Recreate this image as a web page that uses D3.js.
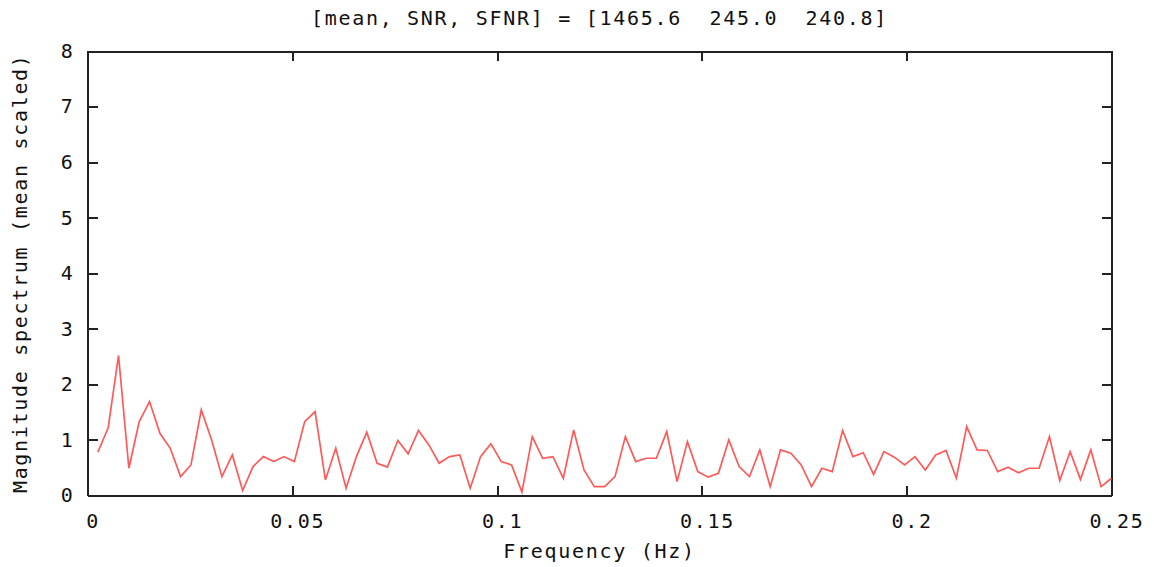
<!DOCTYPE html>
<meta charset="utf-8">
<style>
body { margin: 0; background: #fff; }
text { font-family: "DejaVu Sans Mono", "Liberation Mono", monospace; fill: #111; white-space: pre; }
.axis path, .axis line { stroke: #222; stroke-width: 2; shape-rendering: crispEdges; }
.axis text { font-size: 20px; letter-spacing: 1.7px; }
.lbl { font-size: 20px; letter-spacing: 1.7px; }
.spec { fill: none; stroke: #ff5a5a; stroke-width: 1.7; }
</style>
<svg id="thevis" width="1154" height="567"></svg>
<script src="https://cdn.jsdelivr.net/npm/d3@7"></script>
<script>
// magnitude spectrum, one value per frequency bin k/396, k = 1..99
var magnitude = [
  0.78, 1.22, 2.52, 0.49, 1.33, 1.69, 1.12, 0.85, 0.34, 0.55,
  1.54, 1.00, 0.34, 0.73, 0.09, 0.52, 0.70, 0.61, 0.70, 0.61,
  1.33, 1.51, 0.28, 0.85, 0.13, 0.70, 1.14, 0.58, 0.51, 0.99,
  0.75, 1.17, 0.91, 0.58, 0.70, 0.73, 0.13, 0.70, 0.93, 0.61,
  0.55, 0.06, 1.06, 0.67, 0.70, 0.31, 1.18, 0.46, 0.16, 0.16,
  0.34, 1.06, 0.61, 0.67, 0.67, 1.15, 0.25, 0.97, 0.43, 0.33,
  0.40, 1.00, 0.52, 0.34, 0.82, 0.16, 0.82, 0.76, 0.55, 0.16,
  0.49, 0.43, 1.17, 0.70, 0.77, 0.38, 0.79, 0.69, 0.55, 0.70,
  0.46, 0.73, 0.81, 0.31, 1.24, 0.82, 0.81, 0.43, 0.51, 0.41,
  0.49, 0.49, 1.06, 0.27, 0.79, 0.29, 0.82, 0.16, 0.31
];
var nBins = 396;
var xTicks = [0, 0.05, 0.1, 0.15, 0.2, 0.25];
var xTickLabels = ["0", "0.05", "0.1", "0.15", "0.2", "0.25"];
var yTicks = [0, 1, 2, 3, 4, 5, 6, 7, 8];
var title = "[mean, SNR, SFNR] = [1465.6  245.0  240.8]";
var xTitle = "Frequency (Hz)";
var yTitle = "Magnitude spectrum (mean scaled)";

var svg = d3.select("svg");
var margin = {top: 51, right: 42.5, bottom: 71.5, left: 87.5};
var width = +svg.attr("width") - margin.left - margin.right;
var height = +svg.attr("height") - margin.top - margin.bottom;

var x = d3.scaleLinear().domain([0, 0.25]).range([0, width]);
var y = d3.scaleLinear().domain([0, 8]).range([height, 0]);

var g = svg.append("g")
    .attr("transform", "translate(" + margin.left + "," + margin.top + ")");

var data = magnitude.map(function(v, i) { return {f: (i + 1) / nBins, v: v}; });

// ticks point inward on all four sides
g.append("g")
    .attr("class", "axis")
    .attr("transform", "translate(0," + height + ")")
    .call(d3.axisBottom(x).tickValues(xTicks).tickSizeInner(-10).tickSizeOuter(0).tickPadding(18)
      .tickFormat(function(d, i) { return xTickLabels[i]; }))
  .selectAll("text").attr("dx", "5");

g.append("g")
    .attr("class", "axis")
    .call(d3.axisTop(x).tickValues(xTicks).tickSizeInner(-10).tickSizeOuter(0).tickFormat(""));

g.append("g")
    .attr("class", "axis")
    .call(d3.axisLeft(y).tickValues(yTicks).tickSizeInner(-10).tickSizeOuter(0).tickPadding(13));

g.append("g")
    .attr("class", "axis")
    .attr("transform", "translate(" + width + ",0)")
    .call(d3.axisRight(y).tickValues(yTicks).tickSizeInner(-10).tickSizeOuter(0).tickFormat(""));

g.append("path")
    .datum(data)
    .attr("class", "spec")
    .attr("d", d3.line().x(function(d) { return x(d.f); }).y(function(d) { return y(d.v); }));

svg.append("text")
    .attr("class", "lbl")
    .attr("x", margin.left + width / 2)
    .attr("y", 25)
    .attr("text-anchor", "middle")
    .text(title);

svg.append("text")
    .attr("class", "lbl")
    .attr("x", margin.left + width / 2)
    .attr("y", 558)
    .attr("text-anchor", "middle")
    .text(xTitle);

svg.append("text")
    .attr("class", "lbl")
    .attr("transform", "translate(27," + (margin.top + height / 2) + ") rotate(-90)")
    .attr("text-anchor", "middle")
    .text(yTitle);
</script>
